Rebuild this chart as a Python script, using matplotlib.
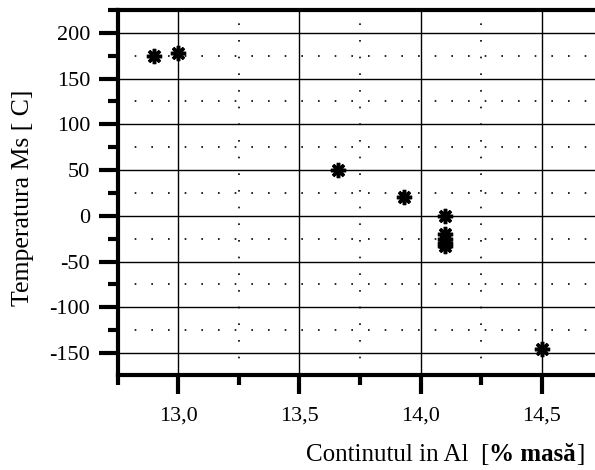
import numpy as np
import matplotlib
matplotlib.use("Agg")
import matplotlib.pyplot as plt
from matplotlib.ticker import MultipleLocator, FuncFormatter
from matplotlib.offsetbox import TextArea, HPacker, AnchoredOffsetbox

plt.rcParams['font.family'] = ['Liberation Serif', 'DejaVu Serif']

# continut Al [% masa] si temperatura Ms [C]
al_content = [12.90, 13.00, 13.66, 13.93, 14.10, 14.10, 14.10, 14.10, 14.10, 14.50]
ms_temp    = [175,   178,   50,    20,    0,     -20,   -25,   -30,   -33,   -145]

fig = plt.figure(figsize=(5.95, 4.70), dpi=100)
ax = fig.add_axes([0.198, 0.202, 0.802, 0.777])

ax.set_xlim(12.75, 14.72)
ax.set_ylim(-174, 225)

ax.xaxis.set_major_locator(MultipleLocator(0.5))
ax.xaxis.set_minor_locator(MultipleLocator(0.25))
ax.yaxis.set_major_locator(MultipleLocator(50))
ax.yaxis.set_minor_locator(MultipleLocator(25))
ax.xaxis.set_major_formatter(FuncFormatter(lambda v, p: f"{v:.1f}".replace(".", ",")))
ax.yaxis.set_major_formatter(FuncFormatter(lambda v, p: f"{v:.0f}"))

ax.grid(which='major', color='black', linewidth=1.0, linestyle='-')
ax.grid(which='minor', color='black', linewidth=1.2, linestyle=(0, (1, 9)))
ax.set_axisbelow(True)

for side in ['left', 'bottom', 'top']:
    ax.spines[side].set_linewidth(3)
ax.spines['right'].set_visible(False)

ax.tick_params(which='major', direction='out', length=14, width=3, labelsize=16, pad=6)
ax.tick_params(which='minor', direction='out', length=7, width=3)
ax.tick_params(axis='x', which='major', pad=9)

ax.plot(al_content, ms_temp, linestyle='none', marker=(8, 2, 0), markersize=11,
        markeredgewidth=2.5, color='black', zorder=5)
ax.plot(al_content, ms_temp, linestyle='none', marker='s', markersize=4,
        color='black', zorder=5)

ax.set_ylabel("Temperatura Ms [ C]", fontsize=18.5)
ax.yaxis.set_label_coords(-0.176, 0.485)

parts = HPacker(children=[
    TextArea("Continutul in Al  [", textprops=dict(fontsize=18)),
    TextArea("% mas\u0103", textprops=dict(fontsize=18, fontweight='bold')),
    TextArea("]", textprops=dict(fontsize=18)),
], align='baseline', pad=0, sep=0)
box = AnchoredOffsetbox(loc='center', child=parts, frameon=False,
                        bbox_to_anchor=(0.748, 0.032), bbox_transform=fig.transFigure,
                        borderpad=0, pad=0)
fig.add_artist(box)

fig.savefig("out.png", dpi=100)
